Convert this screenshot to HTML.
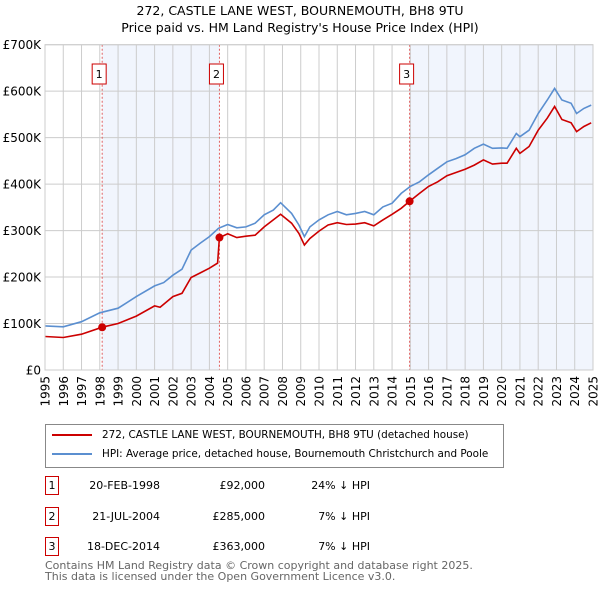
<!DOCTYPE html>
<html><head><meta charset="utf-8"><style>
body{margin:0;background:#fff;font-family:"Liberation Sans","DejaVu Sans",sans-serif;}
#wrap{position:relative;width:600px;height:590px;overflow:hidden}
</style></head><body><div id="wrap">
<svg id="chart" width="600" height="590" style="position:absolute;left:0;top:0;font-family:'DejaVu Sans','Liberation Sans',sans-serif">
<text x="300" y="15" text-anchor="middle" font-size="12.5">272, CASTLE LANE WEST, BOURNEMOUTH, BH8 9TU</text>
<text x="300" y="32" text-anchor="middle" font-size="12.5">Price paid vs. HM Land Registry's House Price Index (HPI)</text>
<g id="shade"></g><g id="grid"></g><g id="sales"></g><g id="lines"></g><g id="axes"></g>
</svg>
<div style="position:absolute;left:45px;top:424px;width:457px;height:42px;border:1px solid #888;font-family:'DejaVu Sans',sans-serif;font-size:10.4px">
<div style="position:absolute;left:6px;top:4px;white-space:nowrap"><span style="display:inline-block;width:40px;height:2px;background:#cc0000;vertical-align:middle;margin-right:10px"></span>272, CASTLE LANE WEST, BOURNEMOUTH, BH8 9TU (detached house)</div>
<div style="position:absolute;left:6px;top:23px;white-space:nowrap"><span style="display:inline-block;width:40px;height:2px;background:#5b8fd0;vertical-align:middle;margin-right:10px"></span>HPI: Average price, detached house, Bournemouth Christchurch and Poole</div>
</div>
<div id="table" style="font-family:'DejaVu Sans',sans-serif;font-size:11px"></div>
<div style="position:absolute;left:45px;top:560px;font-size:11px;color:#666;line-height:11px;font-family:'DejaVu Sans',sans-serif">Contains HM Land Registry data © Crown copyright and database right 2025.<br>This data is licensed under the Open Government Licence v3.0.</div>
</div>
<script>
const hpiYears=[1995,1996,1997,1998,1999,2000,2001,2001.5,2002,2002.5,2003,2003.5,2004,2004.5,2005,2005.5,2006,2006.5,2007,2007.5,2007.9,2008.5,2008.9,2009.2,2009.5,2010,2010.5,2011,2011.5,2012,2012.5,2013,2013.5,2014,2014.5,2015,2015.5,2016,2016.5,2017,2017.5,2018,2018.5,2019,2019.5,2020,2020.3,2020.8,2021,2021.5,2022,2022.5,2022.9,2023.3,2023.8,2024.1,2024.5,2024.9];
const hpiValues=[95,93,104,123,133,158,181,188,204,217,258,273,287,305,313,306,308,316,334,344,360,337,312,287,308,323,334,341,334,337,341,334,351,359,380,395,405,420,434,448,455,463,477,486,477,478,477,509,502,516,552,581,606,581,574,552,563,570];
const priceYears=[1995,1996,1997,1998.13,1999,2000,2001,2001.3,2002,2002.5,2003,2003.5,2004,2004.45,2004.55,2005,2005.5,2006,2006.5,2007,2007.9,2008.5,2008.9,2009.2,2009.5,2010,2010.5,2011,2011.5,2012,2012.5,2013,2013.5,2014,2014.5,2014.96,2015.5,2016,2016.5,2017,2017.5,2018,2018.5,2019,2019.5,2020,2020.3,2020.8,2021,2021.5,2022,2022.5,2022.9,2023.3,2023.8,2024.1,2024.5,2024.9];
const priceValues=[72,70,77,92,100,116,138,135,158,165,199,209,219,230,285,293,285,288,290,308,335,316,294,269,283,299,312,317,313,314,317,310,323,335,348,363,380,395,405,418,425,432,441,452,443,445,445,477,466,481,516,542,567,539,532,513,524,532];
const saleLabels=["1","2","3"];
const saleYears=[1998.13,2004.55,2014.96];
const saleValues=[92,285,363];
const saleDates=["20-FEB-1998","21-JUL-2004","18-DEC-2014"];
const salePrices=["£92,000","£285,000","£363,000"];
const saleHpi=["24% ↓ HPI","7% ↓ HPI","7% ↓ HPI"];
const yTicks=[0,100,200,300,400,500,600,700];
const yTickLabels=["£0","£100K","£200K","£300K","£400K","£500K","£600K","£700K"];
const xTicks=[1995,1996,1997,1998,1999,2000,2001,2002,2003,2004,2005,2006,2007,2008,2009,2010,2011,2012,2013,2014,2015,2016,2017,2018,2019,2020,2021,2022,2023,2024,2025];

const L=45,R=593,T=44.7,B=370,X0=1995,X1=2025,YMAX=700;
const sx=v=>L+(v-X0)/(X1-X0)*(R-L);
const sy=v=>B-v/YMAX*(B-T);
const NS="http://www.w3.org/2000/svg";
function mk(tag,parent,attrs){const e=document.createElementNS(NS,tag);for(const k in attrs)e.setAttribute(k,attrs[k]);parent.appendChild(e);return e;}
const shade=document.getElementById('shade'),grid=document.getElementById('grid'),lines=document.getElementById('lines'),sales=document.getElementById('sales'),axes=document.getElementById('axes');
const spans=[[saleYears[0],saleYears[1]],[saleYears[2],X1]];
spans.forEach((s,i)=>{const r=mk('rect',shade,{x:sx(s[0]),y:T,width:sx(s[1])-sx(s[0]),height:B-T,fill:'#eef3fc',opacity:0.8});

});
xTicks.forEach((t,i)=>{const l=mk('line',grid,{x1:sx(t),x2:sx(t),y1:T,y2:B,stroke:'#cccccc','stroke-width':1});


const tx=mk('text',axes,{transform:`translate(${sx(t)+4.5},${B+6}) rotate(-90)`,'text-anchor':'end','font-size':12});
tx.textContent=t;

});
yTicks.forEach((t,i)=>{const l=mk('line',grid,{x1:L,x2:R,y1:sy(t),y2:sy(t),stroke:'#cccccc','stroke-width':1});


const tx=mk('text',axes,{x:L-4,y:sy(t)+4.5,'text-anchor':'end','font-size':12});
tx.textContent=yTickLabels[i];

});
const pts=(xs,ys)=>xs.map((x,i)=>sx(x).toFixed(1)+','+sy(ys[i]).toFixed(1)).join(' ');
const hl=mk('polyline',lines,{points:pts(hpiYears,hpiValues),fill:'none',stroke:'#5b8fd0','stroke-width':1.6});


const pl=mk('polyline',lines,{points:pts(priceYears,priceValues),fill:'none',stroke:'#cc0000','stroke-width':1.6});


const tbl=document.getElementById('table');
saleYears.forEach((y,i)=>{
 const vl=mk('line',sales,{x1:sx(y),x2:sx(y),y1:T,y2:B,stroke:'#e06060','stroke-width':1,'stroke-dasharray':'2,2'});
 
 
 const bx=mk('rect',sales,{x:sx(y)-10,y:64,width:14,height:20,fill:'#fff',stroke:'#cc0000','stroke-width':1});
 
 
 const bt=mk('text',sales,{x:sx(y)-3,y:78,'text-anchor':'middle','font-size':11});
 bt.textContent=saleLabels[i];
 
 
 const c=mk('circle',lines,{cx:sx(y),cy:sy(saleValues[i]),r:4,fill:'#cc0000'});
 
 
 const top=476+i*30.5;
 const row=document.createElement('div');
 
 
 row.style.cssText=`position:absolute;left:0;top:${top}px;width:600px;height:19px`;
 row.innerHTML=`<div style="position:absolute;left:45px;top:0;width:12px;height:17px;border:1px solid #cc0000;text-align:center;line-height:17px">${saleLabels[i]}</div><div style="position:absolute;left:60px;width:100px;text-align:right;line-height:19px">${saleDates[i]}</div><div style="position:absolute;left:165px;width:100px;text-align:right;line-height:19px">${salePrices[i]}</div><div style="position:absolute;left:270px;width:100px;text-align:right;line-height:19px">${saleHpi[i]}</div>`;
 tbl.appendChild(row);
});
const bd=mk('rect',axes,{x:L,y:T,width:R-L,height:B-T,fill:'none',stroke:'#cccccc','stroke-width':1});


</script>
</body></html>
